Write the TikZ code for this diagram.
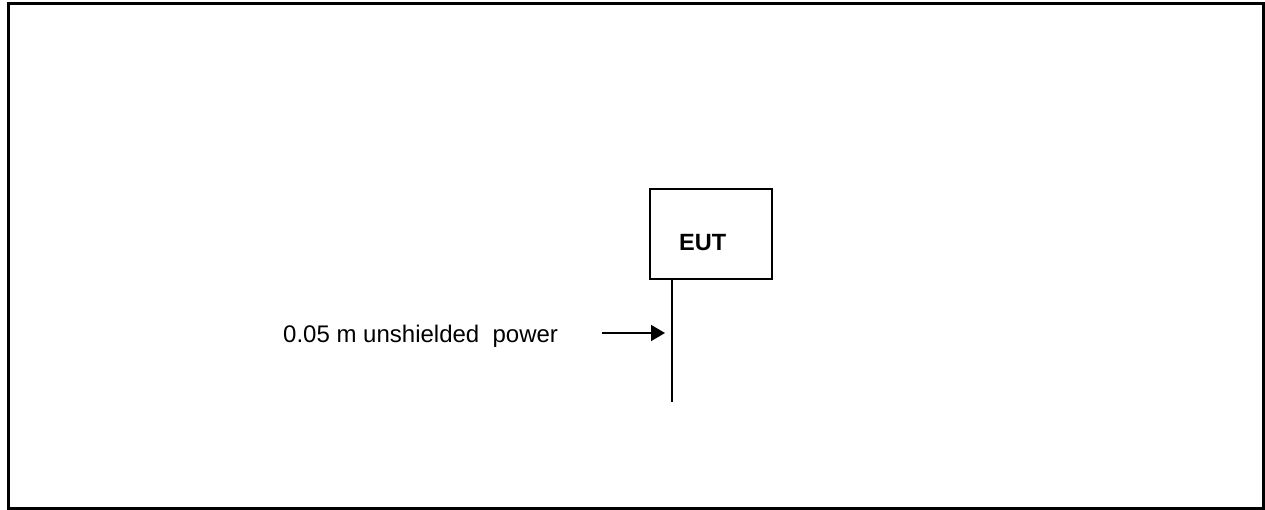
\documentclass[tikz,border=0pt]{standalone}
\usepackage{fontspec}
\setmainfont{Liberation Sans}
\usetikzlibrary{arrows.meta}
\begin{document}
\begin{tikzpicture}[x=1pt,y=-1pt,
  frame/.style={draw=black,line width=3pt},
  boxstyle/.style={draw=black,line width=1.6pt,minimum width=122pt,minimum height=90pt,inner sep=0pt},
  wire/.style={draw=black,line width=1.7pt},
  pointer/.style={draw=black,line width=1.6pt,-{Triangle[length=14pt,width=16pt]}},
  txt/.style={font=\fontsize{24}{28}\selectfont,inner sep=0pt}]
\useasboundingbox (0,0) rectangle (1265,510);
\draw[frame] (8,4) rectangle (1263,508);
\node[boxstyle] (eut) at (711,234) {};
\node[txt,font=\fontsize{23.5}{28}\selectfont\bfseries,anchor=base west] (eutlabel) at (679,250.7) {EUT};
\coordinate (cableend) at (671.7,401.7);
\draw[wire] (eut.south -| cableend) -- (cableend);
\node[txt,anchor=base west] (label) at (283,342.5) {0.05 m unshielded\ \ power};
\coordinate (arrstart) at (601.7,333);
\coordinate (arrend) at (665,333);
\draw[pointer] (arrstart) -- (arrend);
\end{tikzpicture}
\end{document}
